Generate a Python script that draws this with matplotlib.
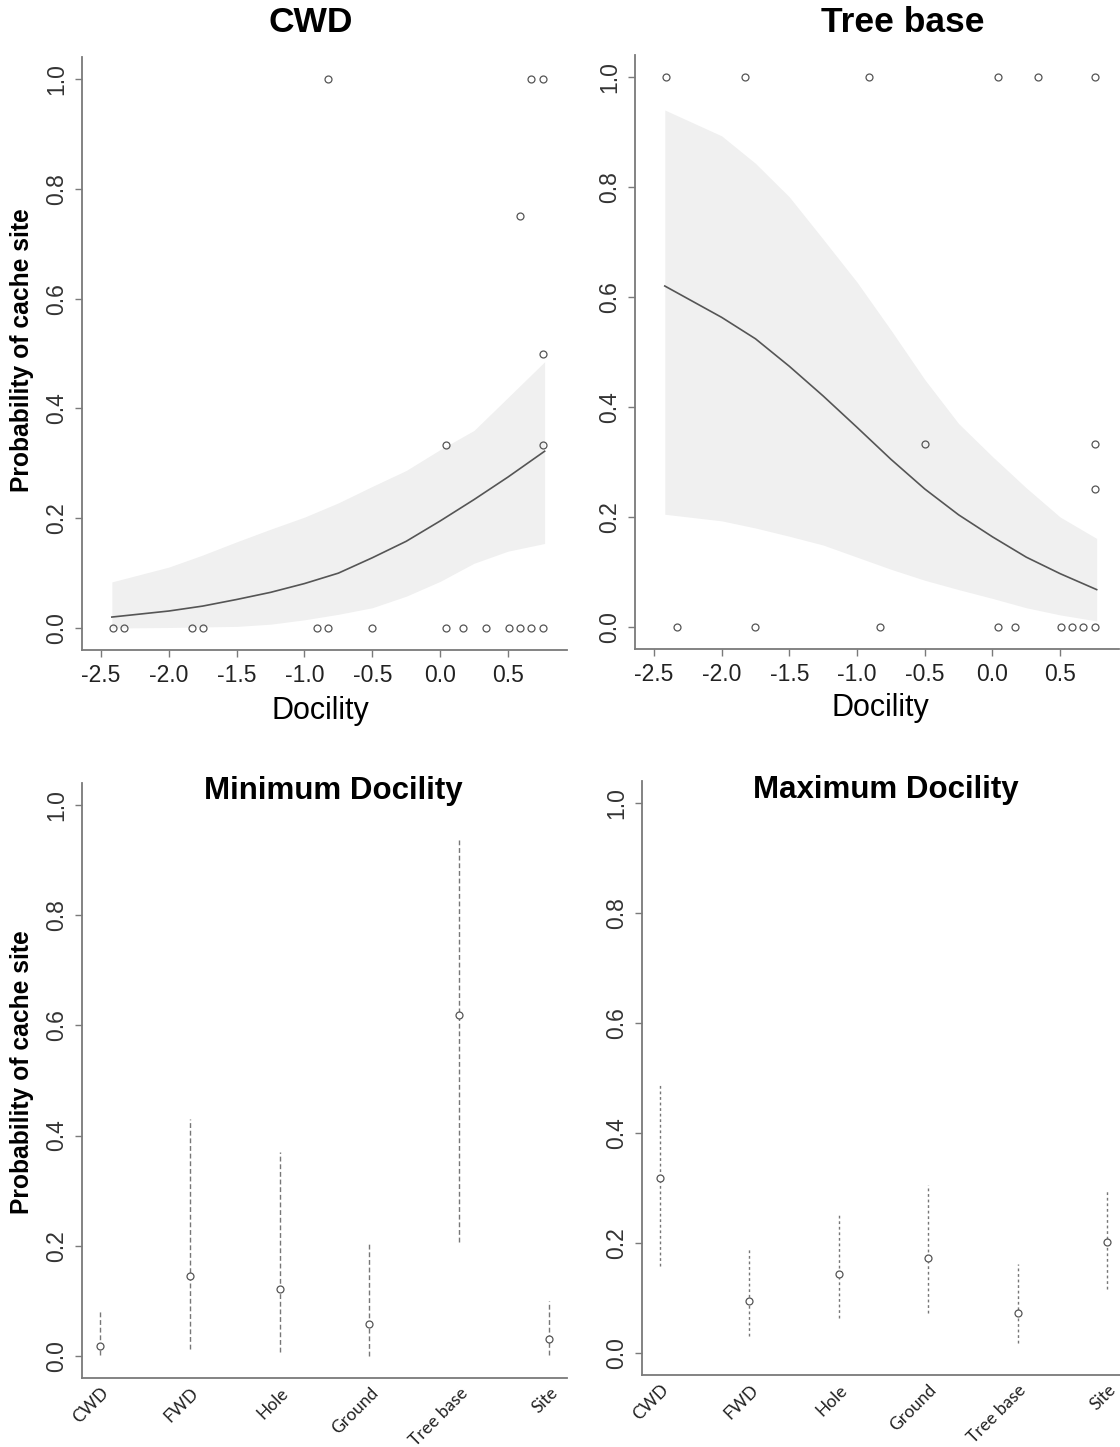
import matplotlib
matplotlib.use("Agg")
import matplotlib.pyplot as plt
import matplotlib.transforms as mtransforms

# docility values of the observed individuals
cwd_obs_x = [-2.41, -2.33, -1.83, -1.75, -0.91, -0.83, -0.50, 0.04, 0.17, 0.34, 0.51, 0.59, 0.67, 0.76,
             -0.83, 0.67, 0.76, 0.59, 0.76, 0.04, 0.76]
cwd_obs_y = [0, 0, 0, 0, 0, 0, 0, 0, 0, 0, 0, 0, 0, 0,
             1, 1, 1, 0.75, 0.5, 0.333, 0.333]
tree_obs_x = [-2.41, -1.83, -0.91, 0.04, 0.34, 0.76,
              -2.33, -1.75, -0.83, 0.04, 0.17, 0.51, 0.59, 0.67, 0.76,
              -0.50, 0.76, 0.76]
tree_obs_y = [1, 1, 1, 1, 1, 1,
              0, 0, 0, 0, 0, 0, 0, 0, 0,
              0.333, 0.333, 0.25]

# fitted curve and confidence band
fit_x = [-2.42, -2.0, -1.75, -1.5, -1.25, -1.0, -0.75, -0.5, -0.25, 0.0, 0.25, 0.5, 0.77]
cwd_fit = [0.020, 0.031, 0.040, 0.052, 0.065, 0.081, 0.100, 0.128, 0.158, 0.195, 0.234, 0.275, 0.322]
cwd_upper = [0.084, 0.111, 0.133, 0.157, 0.180, 0.202, 0.228, 0.258, 0.287, 0.325, 0.360, 0.420, 0.485]
cwd_lower = [0.0, 0.001, 0.002, 0.003, 0.007, 0.015, 0.025, 0.037, 0.058, 0.085, 0.118, 0.140, 0.154]
tree_fit = [0.62, 0.563, 0.524, 0.474, 0.42, 0.363, 0.305, 0.251, 0.204, 0.164, 0.127, 0.097, 0.068]
tree_upper = [0.94, 0.893, 0.843, 0.782, 0.705, 0.627, 0.54, 0.45, 0.37, 0.31, 0.253, 0.20, 0.161]
tree_lower = [0.205, 0.193, 0.18, 0.165, 0.149, 0.127, 0.105, 0.085, 0.068, 0.052, 0.035, 0.022, 0.011]

# predicted probability per cache site at min / max docility
sites = ["CWD", "FWD", "Hole", "Ground", "Tree base", "Site"]
min_pred = [0.018, 0.145, 0.121, 0.058, 0.618, 0.031]
min_low = [0.002, 0.013, 0.007, 0.0, 0.207, 0.002]
min_high = [0.082, 0.43, 0.371, 0.203, 0.937, 0.10]
max_pred = [0.319, 0.095, 0.144, 0.173, 0.072, 0.202]
max_low = [0.159, 0.031, 0.063, 0.072, 0.018, 0.117]
max_high = [0.49, 0.189, 0.252, 0.306, 0.162, 0.297]

W, H = 1120, 1447
AXIS_GRAY = "#7a7a7a"
PT_GRAY = "#555555"
plt.rcParams["font.family"] = ["Liberation Sans", "DejaVu Sans"]

fig = plt.figure(figsize=(W / 100, H / 100), dpi=100)


def px_axes(left, top, right, bottom):
    return fig.add_axes([left / W, 1 - bottom / H, (right - left) / W, (bottom - top) / H])


def style_axes(ax):
    for s in ("top", "right"):
        ax.spines[s].set_visible(False)
    for s in ("left", "bottom"):
        ax.spines[s].set_color(AXIS_GRAY)
        ax.spines[s].set_linewidth(1.3)
    ax.set_ylim(-0.04, 1.04)
    ax.set_yticks([0, 0.2, 0.4, 0.6, 0.8, 1.0])
    ax.set_yticklabels(["0.0", "0.2", "0.4", "0.6", "0.8", "1.0"])
    ax.tick_params(axis="y", direction="out", length=5, width=1, color=AXIS_GRAY,
                   labelsize=16.5, labelcolor="#333333", labelrotation=90, pad=5)
    for lab in ax.get_yticklabels():
        lab.set_va("center")


def docility_panel(ax, obs_x, obs_y, fit, lo, hi):
    style_axes(ax)
    ax.fill_between(fit_x, lo, hi, color="#f0f0f0", lw=0, zorder=1)
    ax.plot(fit_x, fit, color="#555555", lw=1.2, zorder=2)
    ax.plot(obs_x, obs_y, "o", mfc="none", mec=PT_GRAY, mew=0.9, ms=5, zorder=3, clip_on=False)
    ax.set_xlim(-2.64, 0.935)
    ax.set_xticks([-2.5, -2.0, -1.5, -1.0, -0.5, 0.0, 0.5])
    ax.set_xticklabels(["-2.5", "-2.0", "-1.5", "-1.0", "-0.5", "0.0", "0.5"])
    ax.tick_params(axis="x", direction="out", length=5, width=1, color=AXIS_GRAY,
                   labelsize=16.5, labelcolor="#222222", pad=5)


def site_panel(ax, pred, low, high, dash):
    style_axes(ax)
    pos = list(range(1, len(sites) + 1))
    ax.vlines(pos, low, high, colors="#777777", lw=1.0, linestyles=[dash], zorder=1)
    ax.plot(pos, pred, "o", mfc="white", mec=PT_GRAY, mew=0.9, ms=5, zorder=2)
    ax.set_xlim(0.8, 6.2)
    ax.set_xticks(pos)
    ax.set_xticklabels(sites, rotation=45, ha="right", va="center", rotation_mode="anchor",
                       family=["Lato", "DejaVu Sans"], fontsize=12.5)
    ax.tick_params(axis="x", length=0, pad=9, labelcolor="#222222")
    # nudge the slanted labels a little to the right, like the original
    shift = mtransforms.ScaledTranslation(6 / 100, 0, fig.dpi_scale_trans)
    for lab in ax.get_xticklabels():
        lab.set_transform(lab.get_transform() + shift)


ax1 = px_axes(82, 57, 567, 650)
docility_panel(ax1, cwd_obs_x, cwd_obs_y, cwd_fit, cwd_lower, cwd_upper)
ax2 = px_axes(635, 55, 1119, 649)
docility_panel(ax2, tree_obs_x, tree_obs_y, tree_fit, tree_lower, tree_upper)
ax3 = px_axes(82, 783, 567, 1378)
site_panel(ax3, min_pred, min_low, min_high, (0, (3.5, 2)))
ax4 = px_axes(642, 781, 1125, 1375)
site_panel(ax4, max_pred, max_low, max_high, (0, (2, 2)))


def ftext(x, y, s, **kw):
    fig.text(x / W, 1 - y / H, s, ha="center", va="center", **kw)


ftext(311, 23, "CWD", fontsize=25.5, fontweight="bold")
ftext(903, 23, "Tree base", fontsize=25.5, fontweight="bold")
ftext(333, 791, "Minimum Docility", fontsize=22.5, fontweight="bold")
ftext(886, 790, "Maximum Docility", fontsize=22.5, fontweight="bold")
ftext(320, 711, "Docility", fontsize=22)
ftext(880, 708, "Docility", fontsize=22)
ftext(22, 350, "Probability of cache site", fontsize=17.7, fontweight="bold", rotation=90)
ftext(22, 1072, "Probability of cache site", fontsize=17.7, fontweight="bold", rotation=90)

fig.savefig("out.png", dpi=100, facecolor="white")
